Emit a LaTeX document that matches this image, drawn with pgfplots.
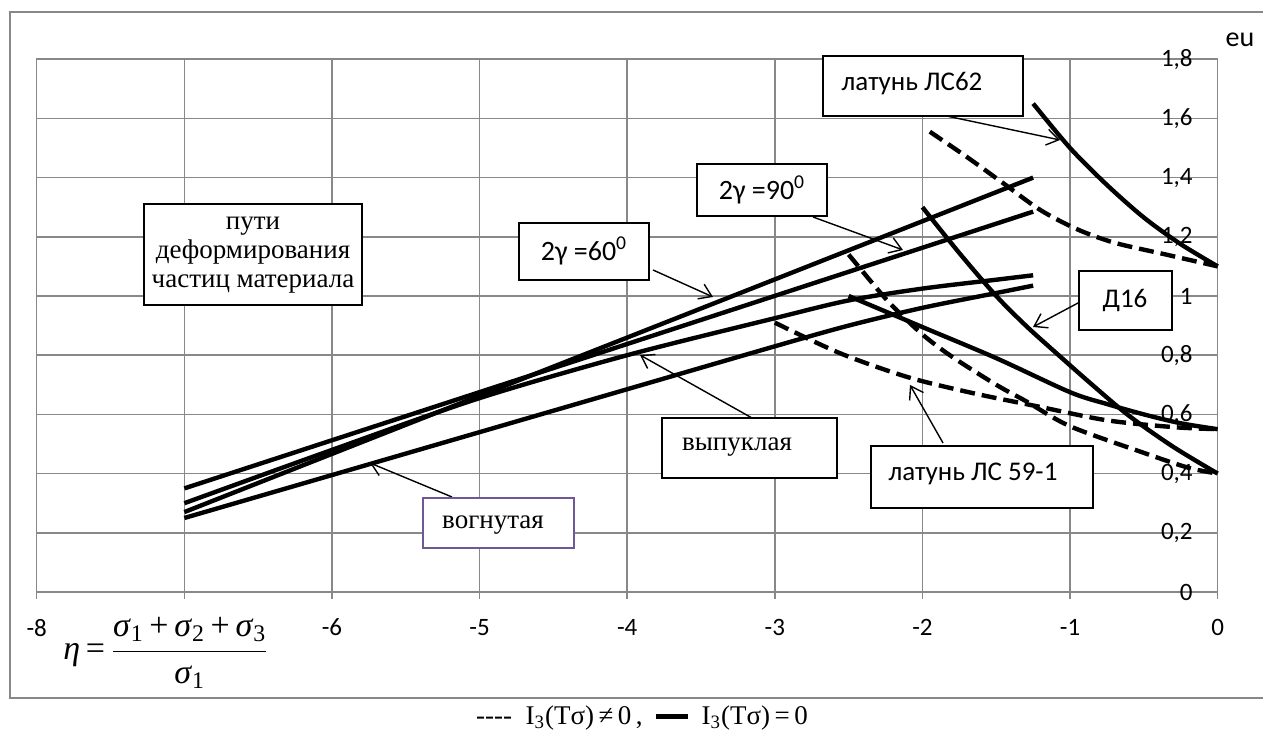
\documentclass[border=0pt]{standalone}
\usepackage{fontspec}
\setmainfont{Carlito}
\newfontfamily\tnr{Liberation Serif}
\usepackage{pgfplots}
\pgfplotsset{compat=1.18}
\usetikzlibrary{arrows.meta}
\definecolor{gridgray}{RGB}{136,136,136}
\definecolor{boxpurple}{RGB}{112,88,150}

\begin{document}
\begin{tikzpicture}
\useasboundingbox (0,0) rectangle (631.5pt,369pt);
\begin{scope}[x=0.5pt,y=-0.5pt,yshift=369pt]
\draw[gridgray, line width=0.75pt] (1280,12) -- (10,12) -- (10,698) -- (1280,698);
\end{scope}

\begin{axis}[
  at={(18.35pt,73pt)}, anchor=south west,
  scale only axis, width=590.5pt, height=266.4pt,
  xmin=-8, xmax=0, ymin=0, ymax=1.8,
  xtick={-8,-7,-6,-5,-4,-3,-2,-1,0},
  xticklabels={-8,,-6,-5,-4,-3,-2,-1,0},
  ytick={0,0.2,0.4,0.6,0.8,1,1.2,1.4,1.6,1.8},
  /pgf/number format/use comma,
  /pgf/number format/assume math mode=true,
  grid=major,
  grid style={gridgray, line width=0.75pt},
  axis line style={gridgray, line width=0.75pt},
  xtick pos=bottom, tick align=outside, major tick length=3.5pt,
  x tick style={gridgray, line width=0.75pt},
  ytick pos=right, y tick style={draw=none},
  yticklabel pos=right,
  yticklabel style={anchor=east, xshift=-12.5pt, font=\fontsize{12.5}{14}\selectfont},
  xticklabel style={yshift=-6.5pt, font=\fontsize{12.5}{14}\selectfont},
  clip=false,
]
% 2gamma = 90
\addplot[black, line width=2.2pt] coordinates {(-7,0.35) (-1.25,1.285)};
% 2gamma = 60
\addplot[black, line width=2.2pt] coordinates {(-7,0.27) (-1.25,1.40)};
% convex
\addplot[black, line width=2.2pt, smooth] coordinates {(-7,0.30) (-6,0.48) (-5,0.655) (-4,0.80) (-3,0.925) (-2.5,0.985) (-2,1.025) (-1.5,1.055) (-1.25,1.07)};
% concave
\addplot[black, line width=2.2pt, smooth] coordinates {(-7,0.25) (-6,0.395) (-5,0.54) (-4,0.685) (-3,0.83) (-2.5,0.90) (-2,0.96) (-1.5,1.01) (-1.25,1.035)};
% LS62 solid
\addplot[black, line width=2.2pt, smooth] coordinates {(-1.25,1.65) (-1.0,1.50) (-0.75,1.375) (-0.5,1.265) (-0.25,1.175) (0,1.10)};
% LS62 dashed
\addplot[black, line width=2.2pt, smooth, dash pattern=on 7.5pt off 3.5pt] coordinates {(-1.95,1.555) (-1.7,1.47) (-1.45,1.38) (-1.2,1.29) (-0.95,1.225) (-0.7,1.18) (-0.35,1.14) (0,1.10)};
% D16 solid
\addplot[black, line width=2.2pt, smooth] coordinates {(-2,1.30) (-1.75,1.145) (-1.5,1.0) (-1.3,0.9) (-1.1,0.81) (-0.85,0.70) (-0.6,0.595) (-0.3,0.49) (0,0.40)};
% D16 dashed
\addplot[black, line width=2.2pt, smooth, dash pattern=on 7.5pt off 3.5pt] coordinates {(-2.5,1.14) (-2.3,1.02) (-2.2,0.965) (-2.0,0.87) (-1.8,0.795) (-1.5,0.70) (-1.3,0.645) (-1.0,0.56) (-0.5,0.47) (-0.2,0.42) (0,0.40)};
% LS59-1 solid
\addplot[black, line width=2.2pt, smooth] coordinates {(-2.5,1.0) (-2.0,0.895) (-1.5,0.79) (-1.0,0.675) (-0.75,0.635) (-0.5,0.60) (-0.25,0.57) (0,0.55)};
% LS59-1 dashed
\addplot[black, line width=2.2pt, smooth, dash pattern=on 7.5pt off 3.5pt] coordinates {(-3,0.91) (-2.56,0.807) (-2.1,0.726) (-1.66,0.672) (-1.2,0.625) (-0.75,0.58) (-0.3,0.557) (0,0.55)};
\end{axis}

\begin{scope}[x=0.5pt,y=-0.5pt,yshift=369pt]
\tikzset{arr/.style={black, line width=0.7pt, -{Straight Barb[length=6pt,width=8pt]}},
         bx/.style={draw=black, fill=white, line width=0.8pt}}
% arrows
\draw[arr] (653,270) -- (713,297);
\draw[arr] (813,217) -- (903,250);
\draw[arr] (937,114) -- (1060,140);
\draw[arr] (1078,303) -- (1033,327);
\draw[arr] (943,443) -- (910,385);
\draw[arr] (752,418) -- (640,355);
\draw[arr] (452,497) -- (370,463);
% boxes
\draw[bx] (144,204) rectangle (362,305);
\node[align=center, font=\tnr\fontsize{13.5}{14.5}\selectfont] at (253,255) {пути\\деформирования\\частиц материала};
\draw[bx] (519,223) rectangle (649,280);
\node[font=\fontsize{14}{16}\selectfont] at (584,251) {2γ =60\textsuperscript{0}};
\draw[bx] (697,164) rectangle (827,216);
\node[font=\fontsize{14}{16}\selectfont] at (762,190) {2γ =90\textsuperscript{0}};
\draw[bx] (823,56) rectangle (1023,116);
\node[font=\fontsize{13.5}{16}\selectfont] at (912,84) {латунь ЛС62};
\draw[bx] (1079,271) rectangle (1172,330);
\node[font=\fontsize{13.5}{16}\selectfont] at (1125,300) {Д16};
\draw[bx] (871,446) rectangle (1093,508);
\node[font=\fontsize{13.5}{16}\selectfont] at (973,474) {латунь ЛС 59-1};
\draw[bx] (662,418) rectangle (837,478);
\node[font=\tnr\fontsize{13.5}{16}\selectfont] at (737,447) {выпуклая};
\draw[bx, draw=boxpurple] (423,498) rectangle (574,548);
\node[font=\tnr\fontsize{13.5}{16}\selectfont] at (493,525) {вогнутая};
% eu
\node[font=\fontsize{14}{16}\selectfont] at (1240,40) {eu};
% formula
\node[font=\tnr\fontsize{17}{20}\selectfont, inner sep=1pt] at (166,653) {\textit{η}\,=\,$\displaystyle\frac{\hbox{\textit{σ}\textsubscript{1}\,+\,\textit{σ}\textsubscript{2}\,+\,\textit{σ}\textsubscript{3}}}{\hbox{\textit{σ}\textsubscript{1}}}$};
% legend
\node[font=\tnr\fontsize{13.5}{15}\selectfont] at (642,718) {-{}-{}-{}-\enspace I\textsubscript{3}(Tσ)\,≠\,0\,,\enspace\rule[0.22em]{16pt}{2.5pt}\enspace I\textsubscript{3}(Tσ)\,=\,0};
\end{scope}
\end{tikzpicture}
\end{document}
